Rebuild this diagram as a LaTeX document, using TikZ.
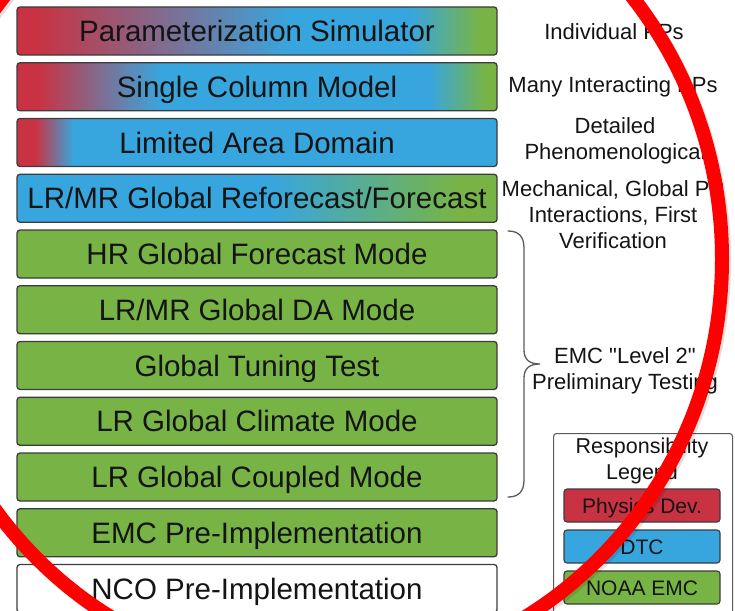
\documentclass[tikz,border=0pt]{standalone}
\usepackage{fontspec}
\setmainfont{Liberation Sans}
\newfontfamily\rawsans{Liberation Sans}
\definecolor{cR}{RGB}{201,50,66}
\definecolor{cB}{RGB}{56,166,222}
\definecolor{cG}{RGB}{120,180,69}
\definecolor{txt}{RGB}{20,20,20}
\definecolor{bord}{RGB}{60,60,60}
\definecolor{brc}{RGB}{90,90,90}
\definecolor{ring}{RGB}{255,0,0}
\pgfdeclarehorizontalshading{shA}{100bp}{color(0bp)=(cR); color(27bp)=(cR); color(53.5bp)=(cB); color(66bp)=(cB); color(73.2bp)=(cG); color(100bp)=(cG)}
\pgfdeclarehorizontalshading{shB}{100bp}{color(0bp)=(cR); color(27.2bp)=(cR); color(40bp)=(cB); color(68bp)=(cB); color(73.8bp)=(cG); color(100bp)=(cG)}
\pgfdeclarehorizontalshading{shC}{100bp}{color(0bp)=(cR); color(26.9bp)=(cR); color(30.9bp)=(cB); color(100bp)=(cB)}
\pgfdeclarehorizontalshading{shD}{100bp}{color(0bp)=(cB); color(51.6bp)=(cB); color(71.1bp)=(cG); color(100bp)=(cG)}
\tikzset{
  mbox/.style={draw=bord, line width=1.3pt, rounded corners=3pt, minimum width=480pt,
    minimum height=48pt, inner sep=0pt, text height=21pt, text depth=0pt,
    font=\fontsize{29.5}{34}\selectfont, text=txt},
  gbox/.style={mbox, fill=cG},
  rtext/.style={align=center, inner sep=0pt, font=\rawsans\fontsize{22}{26}\selectfont, text=txt},
  lbox/.style={draw=bord, line width=1.1pt, rounded corners=3pt, minimum width=156pt,
    minimum height=33pt, inner sep=0pt, text height=15pt, text depth=0pt,
    font=\fontsize{21}{24}\selectfont, text=txt},
}
\begin{document}
\begin{tikzpicture}[x=1pt, y=-1pt]
\useasboundingbox (0,0) rectangle (735,610);
\clip (0,0) rectangle (735,610);
% main boxes
\node[mbox, shade, shading=shA] (b1) at (257,31) {Parameterization Simulator};
\node[mbox, shade, shading=shB] (b2) at (257,86.75) {Single Column Model};
\node[mbox, shade, shading=shC] (b3) at (257,142.5) {Limited Area Domain};
\node[mbox, shade, shading=shD] (b4) at (257,198.25) {LR/MR Global Reforecast/Forecast};
\node[gbox] (b5) at (257,254) {HR Global Forecast Mode};
\node[gbox] (b6) at (257,309.75) {LR/MR Global DA Mode};
\node[gbox] (b7) at (257,365.5) {Global Tuning Test};
\node[gbox] (b8) at (257,421.25) {LR Global Climate Mode};
\node[gbox] (b9) at (257,477) {LR Global Coupled Mode};
\node[gbox] (b10) at (257,532.75) {EMC Pre-Implementation};
\node[mbox, fill=white] (b11) at (257,588.5) {NCO Pre-Implementation};
% right-hand texts
\node[rtext] (t1) at (614,32) {Individual PPs};
\node[rtext] (t2) at (613,87) {Many Interacting PPs};
\node[rtext] (t3) at (615,140.5) {Detailed\\Phenomenological};
\node[rtext] (t4) at (613,215) {Mechanical, Global PP\\Interactions, First\\Verification};
\node[rtext] (t5) at (625,370.5) {EMC "Level 2"\\Preliminary Testing};
% brace
\coordinate (brT) at (508,231);
\coordinate (brB) at (508,497);
\coordinate (brTip) at (540,364);
\draw[brc, line width=1.3pt, line cap=round]
  (brT) .. controls (518,231) and (524,236) .. (524,248) -- (524,350)
  .. controls (524,360) and (530,364) .. (brTip)
  .. controls (530,364) and (524,368) .. (524,378) -- (524,480)
  .. controls (524,492) and (518,497) .. (brB);
% legend
\node[draw=brc, line width=1.1pt, rounded corners=3pt, minimum width=179pt, minimum height=190pt,
  inner sep=0pt, anchor=north west] (leg) at (553,433) {};
\node[rtext, font=\rawsans\fontsize{21.5}{26}\selectfont] (legt) at (642,461) {Responsibility\\Legend};
\node[lbox, fill=cR] (l1) at (642,505.5) {Physics Dev.};
\node[lbox, fill=cB] (l2) at (642,546.5) {DTC};
\node[lbox, fill=cG] (l3) at (642,587.5) {NOAA EMC};
% red ring annotation
\draw[line width=14pt, black, opacity=0.12] (320,261.5) ellipse [x radius=404pt, y radius=417pt];
\draw[line width=14pt, ring] (318,259) ellipse [x radius=404pt, y radius=417pt];
\end{tikzpicture}
\end{document}
